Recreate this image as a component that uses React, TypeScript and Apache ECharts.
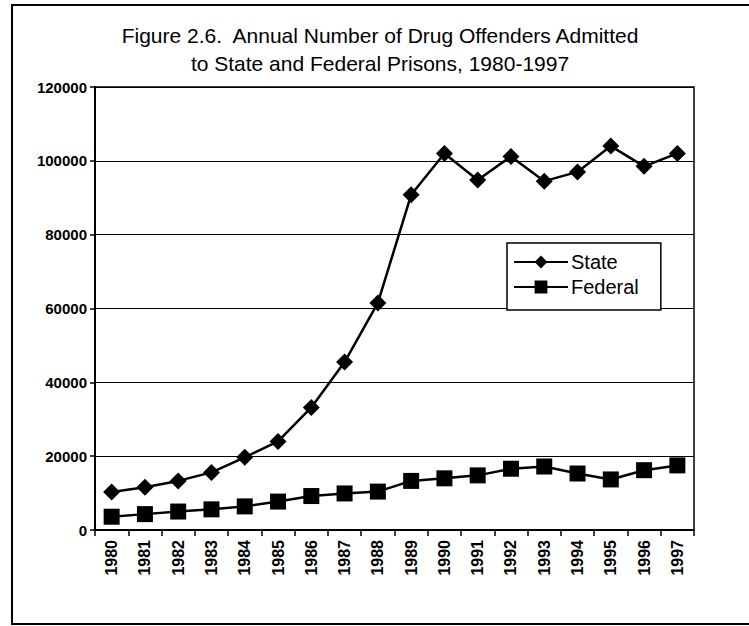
import React, { useEffect, useRef } from "react";
import * as echarts from "echarts";

const years = ["1980","1981","1982","1983","1984","1985","1986","1987","1988","1989","1990","1991","1992","1993","1994","1995","1996","1997"];
const stateValues = [10300, 11600, 13300, 15600, 19700, 24000, 33200, 45500, 61500, 90800, 102000, 94800, 101200, 94500, 97000, 104000, 98500, 102000];
const federalValues = [3600, 4300, 5000, 5600, 6400, 7700, 9200, 9900, 10400, 13300, 14000, 14800, 16600, 17200, 15300, 13700, 16200, 17500];
const titleLines = ["Figure 2.6.  Annual Number of Drug Offenders Admitted", "to State and Federal Prisons, 1980-1997"];
const seriesNames = ["State", "Federal"];

export default function App() {
  const ref = useRef<HTMLDivElement>(null);
  useEffect(() => {
    if (!ref.current) return;
    const chart = echarts.init(ref.current, null, { renderer: "svg" });
    const font = "'Liberation Sans', Arial, sans-serif";
    chart.setOption({
      animation: false,
      backgroundColor: "#fff",
      title: {
        text: titleLines.join("\n"),
        left: 380,
        textAlign: "center",
        top: 21,
        padding: 0,
        textStyle: { fontFamily: font, fontSize: 21, fontWeight: "normal", color: "#000", lineHeight: 28 },
      },
      graphic: [
        {
          type: "rect",
          shape: { x: 12, y: 5, width: 745, height: 619 },
          style: { fill: "none", stroke: "#000", lineWidth: 2 },
          silent: true,
          z: 100,
        },
      ],
      grid: {
        left: 95,
        right: 55,
        top: 87,
        bottom: 96,
        show: true,
        borderColor: "#000",
        borderWidth: 1.5,
        backgroundColor: "#fff",
      },
      legend: {
        data: seriesNames,
        orient: "vertical",
        left: 507,
        top: 243,
        itemWidth: 54,
        itemHeight: 16,
        itemGap: 5,
        padding: [9, 22, 13, 6],
        backgroundColor: "#fff",
        borderColor: "#000",
        borderWidth: 1.5,
        textStyle: { fontFamily: font, fontSize: 20, color: "#000", padding: [0, 0, 0, -2] },
      },
      xAxis: {
        type: "category",
        data: years,
        boundaryGap: true,
        axisLine: { lineStyle: { color: "#000", width: 2 } },
        axisTick: { show: true, length: 6, lineStyle: { color: "#000", width: 1.5 } },
        axisLabel: { rotate: 90, fontFamily: font, fontSize: 16, fontWeight: "bold", color: "#000", margin: 10, interval: 0 },
        splitLine: { show: false },
      },
      yAxis: {
        type: "value",
        min: 0,
        max: 120000,
        interval: 20000,
        axisLine: { show: true, lineStyle: { color: "#000", width: 2 } },
        axisTick: { show: true, length: 5, lineStyle: { color: "#000", width: 1.5 } },
        axisLabel: {
          fontFamily: font,
          fontSize: 15,
          fontWeight: "bold",
          color: "#000",
          margin: 8,
          formatter: (v: number) => String(v),
        },
        splitLine: { show: true, lineStyle: { color: "#000", width: 1 } },
      },
      series: [
        {
          name: seriesNames[0],
          type: "line",
          data: stateValues,
          symbol: "diamond",
          symbolSize: 17,
          lineStyle: { color: "#000", width: 2.5 },
          itemStyle: { color: "#000" },
        },
        {
          name: seriesNames[1],
          type: "line",
          data: federalValues,
          symbol: "rect",
          symbolSize: 16,
          lineStyle: { color: "#000", width: 2.5 },
          itemStyle: { color: "#000" },
        },
      ],
    });
    return () => chart.dispose();
  }, []);
  return <div ref={ref} style={{ position: "fixed", left: 0, top: 0, width: 749, height: 626 }} />;
}
